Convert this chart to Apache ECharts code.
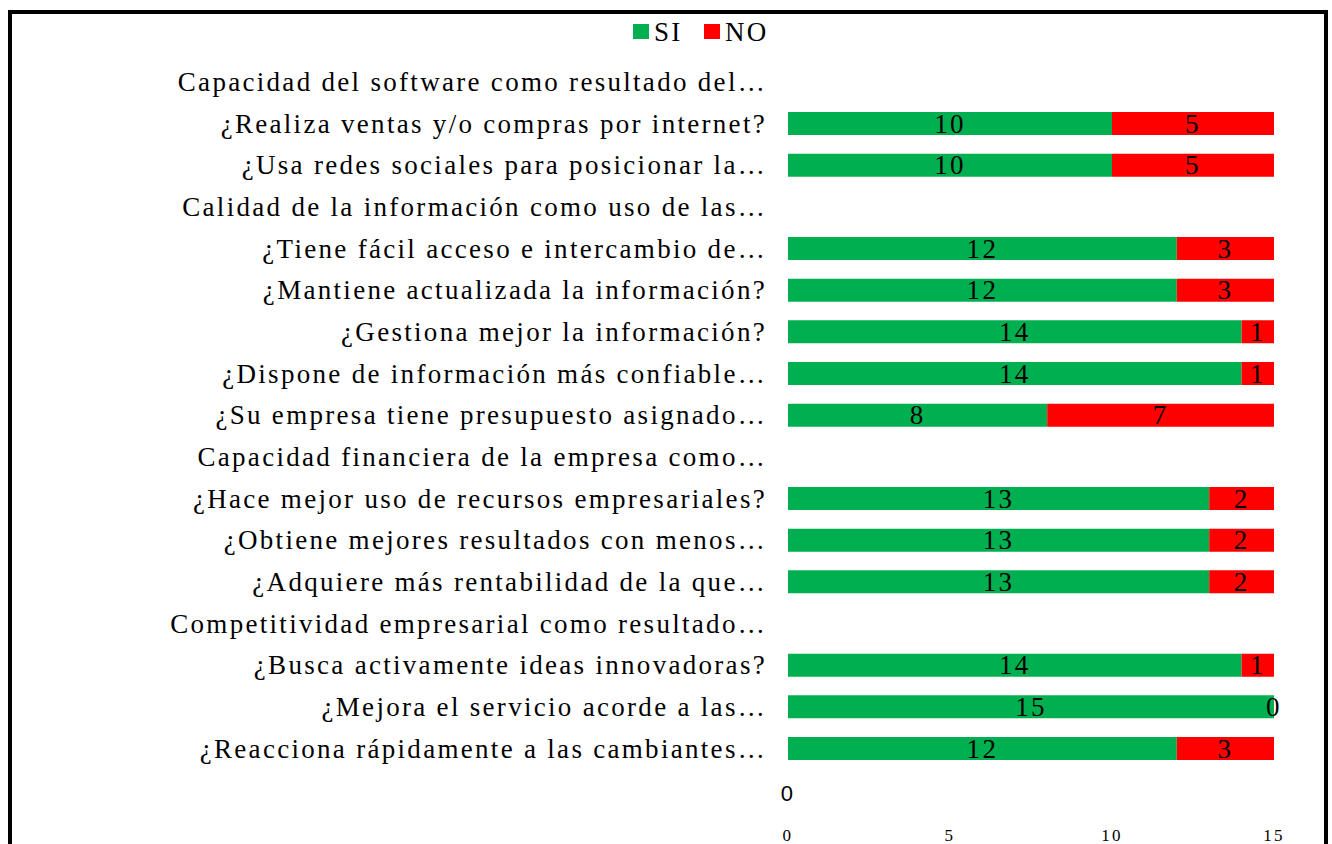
<!DOCTYPE html>
<html><head><meta charset="utf-8">
<script src="https://cdn.jsdelivr.net/npm/echarts@6/dist/echarts.min.js"></script>
<style>
html,body{margin:0;padding:0;background:#fff}
#c{width:1332px;height:844px}
#c svg text{letter-spacing:2.3px}
</style>
</head><body><div id="c"></div>
<script>
const categories = [
  'Capacidad del software como resultado del…',
  '¿Realiza ventas y/o compras por internet?',
  '¿Usa redes sociales para posicionar la…',
  'Calidad de la información como uso de las…',
  '¿Tiene fácil acceso e intercambio de…',
  '¿Mantiene actualizada la información?',
  '¿Gestiona mejor la información?',
  '¿Dispone de información más confiable…',
  '¿Su empresa tiene presupuesto asignado…',
  'Capacidad financiera de la empresa como…',
  '¿Hace mejor uso de recursos empresariales?',
  '¿Obtiene mejores resultados con menos…',
  '¿Adquiere más rentabilidad de la que…',
  'Competitividad empresarial como resultado…',
  '¿Busca activamente ideas innovadoras?',
  '¿Mejora el servicio acorde a las…',
  '¿Reacciona rápidamente a las cambiantes…',
  ''
];
const siValues = ['-',10,10,'-',12,12,14,14,8,'-',13,13,13,'-',14,15,12,'-'];
const noValues = ['-',5,5,'-',3,3,1,1,7,'-',2,2,2,'-',1,0,3,'-'];
const extraValues = ['-','-','-','-','-','-','-','-','-','-','-','-','-','-','-','-','-',0];
const xTicks = [0,5,10,15];

const serif = '"Liberation Serif", "Times New Roman", serif';
const chart = echarts.init(document.getElementById('c'), null, {renderer: 'svg'});
chart.setOption({
  animation: false,
  legend: {
    data: ['SI','NO'], top: 13, left: 628,
    itemWidth: 16, itemHeight: 15, itemGap: 26,
    icon: 'rect',
    textStyle: {fontFamily: serif, fontSize: 27, color: '#000'}
  },
  grid: {left: 788, right: 58, top: 61, bottom: 33, containLabel: false},
  xAxis: {
    type: 'value', min: xTicks[0], max: xTicks[xTicks.length-1], interval: 5,
    splitLine: {show: false}, axisLine: {show: false}, axisTick: {show: false},
    axisLabel: {fontFamily: serif, fontSize: 17, color: '#000', margin: 16}
  },
  yAxis: {
    type: 'category', data: categories, inverse: true,
    axisLine: {show: false}, axisTick: {show: false},
    axisLabel: {fontFamily: serif, fontSize: 27, color: '#000', margin: 21}
  },
  series: [
    {name: 'SI', type: 'bar', stack: 't', data: siValues, barWidth: 23,
     itemStyle: {color: '#00B050'},
     label: {show: true, position: 'inside', fontFamily: serif, fontSize: 27, color: '#000'}},
    {name: 'NO', type: 'bar', stack: 't', data: noValues, barWidth: 23,
     itemStyle: {color: '#FF0000'},
     label: {show: true, position: 'inside', fontFamily: serif, fontSize: 27, color: '#000'}},
    {name: 'extra', type: 'bar', stack: 't', data: extraValues, barWidth: 23,
     itemStyle: {color: 'transparent'},
     label: {show: true, position: 'inside', fontFamily: '"Liberation Sans", Arial, sans-serif', fontSize: 22, color: '#000', offset: [0, 3]}}
  ],
  graphic: [{
    type: 'rect', shape: {x: 10, y: 12, width: 1316, height: 900},
    style: {fill: 'none', stroke: '#000', lineWidth: 4}, z: 100
  }]
});
</script></body></html>
